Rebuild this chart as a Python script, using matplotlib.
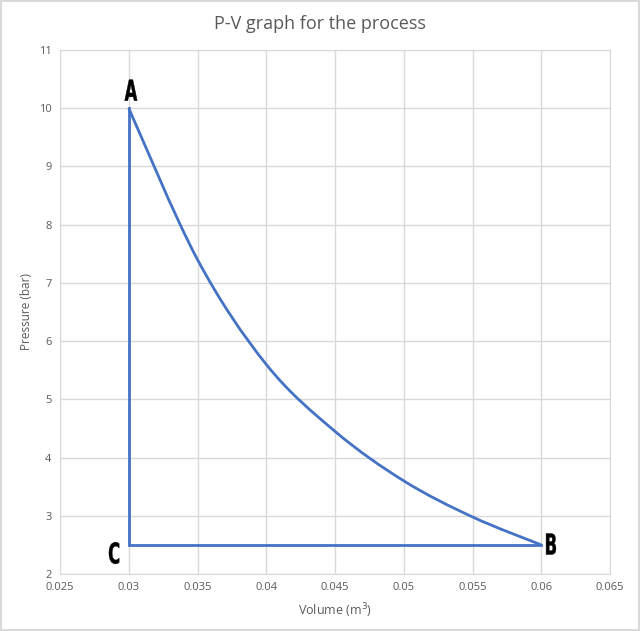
import matplotlib
matplotlib.use("Agg")
import matplotlib.pyplot as plt
from matplotlib.ticker import MultipleLocator, FuncFormatter
from matplotlib.path import Path
from matplotlib.patches import PathPatch
from matplotlib.textpath import TextPath
from matplotlib.font_manager import FontProperties
from matplotlib.transforms import Affine2D, ScaledTranslation

# curve A -> B
curve_v = [0.03, 0.035, 0.04, 0.045, 0.05, 0.055, 0.06]
curve_p = [10, 7.4, 5.6, 4.45, 3.6, 2.98, 2.5]
# straight legs B -> C -> A
leg_v = [0.06, 0.03, 0.03]
leg_p = [2.5, 2.5, 10]
point_labels = ["A", "B", "C"]
point_v = [0.03, 0.06, 0.03]
point_p = [10, 2.5, 2.5]

fig = plt.figure(figsize=(6.4, 6.31), dpi=100)
fig.patch.set_edgecolor("#d9d9d9")
fig.patch.set_linewidth(1.5)
ax = fig.add_axes([60/640, 57/631, 550/640, 524/631])

# smoothed line through the points (Excel-style Catmull-Rom Bezier)
n = len(curve_v)
verts = [(curve_v[0], curve_p[0])]
codes = [Path.MOVETO]
for i in range(n - 1):
    i0 = max(i - 1, 0)
    i3 = min(i + 2, n - 1)
    c1 = (curve_v[i] + (curve_v[i + 1] - curve_v[i0]) / 6,
          curve_p[i] + (curve_p[i + 1] - curve_p[i0]) / 6)
    c2 = (curve_v[i + 1] - (curve_v[i3] - curve_v[i]) / 6,
          curve_p[i + 1] - (curve_p[i3] - curve_p[i]) / 6)
    verts += [c1, c2, (curve_v[i + 1], curve_p[i + 1])]
    codes += [Path.CURVE4] * 3
ax.add_patch(PathPatch(Path(verts, codes), fill=False, edgecolor="#4472C4", lw=2, zorder=3))
ax.plot(leg_v, leg_p, color="#4472C4", lw=2, solid_joinstyle="miter", zorder=3)

ax.set_xlim(0.025, 0.065)
ax.set_ylim(2, 11)
ax.xaxis.set_major_locator(MultipleLocator(0.005))
ax.yaxis.set_major_locator(MultipleLocator(1))
ax.xaxis.set_major_formatter(FuncFormatter(lambda v, p: f"{v:.3f}".rstrip("0").rstrip(".")))
ax.grid(True, color="#d9d9d9", lw=1)
for s in ax.spines.values():
    s.set_color("#d9d9d9")
ax.tick_params(length=0, labelsize=8, labelcolor="#595959", pad=6)
for lab in ax.get_xticklabels() + ax.get_yticklabels():
    lab.set_family("Open Sans")

ax.set_xlabel("Volume (m$^3$)", fontsize=9, color="#595959", family="Open Sans", labelpad=6)
ax.set_ylabel("Pressure (bar)", fontsize=8.5, color="#595959", family="Open Sans")
ax.yaxis.set_label_coords(-0.049, 0.5)
fig.text(0.5, 0.962, "P-V graph for the process", ha="center", va="center",
         fontsize=13, color="#595959", family="Open Sans")

# condensed bold point labels (narrow letters drawn as text paths)
fp = FontProperties(family="DejaVu Sans", weight="bold")
offsets = {"A": (0.00016, 0.31), "B": (0.00071, 0.015), "C": (-0.00107, -0.14)}
cap_px = 21.0
for lab, v, p in zip(point_labels, point_v, point_p):
    dx, dy = offsets[lab]
    tp = TextPath((0, 0), lab, size=10, prop=fp)
    ext = tp.get_extents()
    k = cap_px / 7.3
    tr = (Affine2D()
          .translate(-(ext.x0 + ext.x1) / 2, -(ext.y0 + ext.y1) / 2)
          .scale(k * 0.57, k)
          + ScaledTranslation(v + dx, p + dy, ax.transData))
    ax.add_artist(PathPatch(tp, transform=tr, facecolor="black", edgecolor="black",
                            lw=0.3, zorder=4, clip_on=False))

fig.savefig("out.png", dpi=100)
